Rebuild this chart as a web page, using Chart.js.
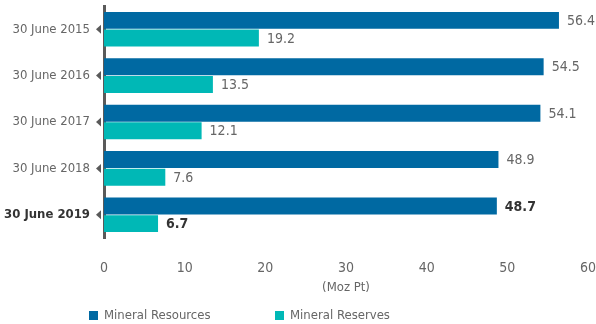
<!DOCTYPE html>
<html lang="en">
<head>
    <meta charset="UTF-8">
    <title>Mineral Resources and Reserves</title>
    <script src="https://cdn.jsdelivr.net/npm/chart.js"></script>
    <style>
        html, body { margin: 0; padding: 0; background: #fff; }
        #wrap { width: 596px; height: 324px; }
    </style>
</head>
<body>
    <div id="wrap"><canvas id="chart" width="596" height="324"></canvas></div>

    <script>
        var years = ['30 June 2015', '30 June 2016', '30 June 2017', '30 June 2018', '30 June 2019'];
        var resources = [56.4, 54.5, 54.1, 48.9, 48.7];
        var reserves = [19.2, 13.5, 12.1, 7.6, 6.7];
        var xTicks = [0, 10, 20, 30, 40, 50, 60];

        var FONT = "'DejaVu Sans Condensed', 'DejaVu Sans', sans-serif";
        var GREY = '#666666';
        var DARK = '#333333';
        var lastIdx = years.length - 1;

        // value labels, axis arrow markers and the legend row
        var extras = {
            id: 'extras',
            afterDatasetsDraw: function (chart) {
                var ctx = chart.ctx;
                ctx.save();
                ctx.textBaseline = 'middle';
                ctx.textAlign = 'left';
                chart.data.datasets.forEach(function (ds, i) {
                    chart.getDatasetMeta(i).data.forEach(function (bar, j) {
                        var bold = j === lastIdx;
                        ctx.font = (bold ? 'bold ' : '') + '14px ' + FONT;
                        ctx.fillStyle = bold ? DARK : GREY;
                        ctx.fillText(ds.data[j].toFixed(1), bar.x + 8, bar.y + 1);
                    });
                });

                // little left-pointing triangles on the category axis
                var yScale = chart.scales.y;
                var left = chart.chartArea.left;
                ctx.fillStyle = '#5a5a5a';
                years.forEach(function (y, j) {
                    var cy = yScale.getPixelForTick(j);
                    ctx.beginPath();
                    ctx.moveTo(left - 8, cy);
                    ctx.lineTo(left - 3, cy - 4.5);
                    ctx.lineTo(left - 3, cy + 4.5);
                    ctx.closePath();
                    ctx.fill();
                });

                // legend
                var lx = [89, 275];
                ctx.font = '13px ' + FONT;
                chart.data.datasets.forEach(function (ds, i) {
                    ctx.fillStyle = ds.backgroundColor;
                    ctx.fillRect(lx[i], 311, 9, 9);
                    ctx.fillStyle = GREY;
                    ctx.fillText(ds.label, lx[i] + 15, 316);
                });
                ctx.restore();
            }
        };

        new Chart(document.getElementById('chart').getContext('2d'), {
            type: 'bar',
            data: {
                labels: years,
                datasets: [{
                    label: 'Mineral Resources',
                    data: resources,
                    backgroundColor: '#0069a2'
                }, {
                    label: 'Mineral Reserves',
                    data: reserves,
                    backgroundColor: '#00b8b6'
                }]
            },
            options: {
                indexAxis: 'y',
                responsive: false,
                animation: false,
                layout: { padding: { top: 6, right: 8, bottom: 29, left: 0 } },
                datasets: {
                    bar: { categoryPercentage: 0.76, barPercentage: 0.96 }
                },
                plugins: {
                    legend: { display: false },
                    tooltip: { enabled: false }
                },
                scales: {
                    x: {
                        min: 0,
                        max: 60,
                        afterBuildTicks: function (scale) {
                            scale.ticks = xTicks.map(function (v) { return { value: v }; });
                        },
                        afterFit: function (scale) {
                            scale.height = 57;
                            scale.paddingLeft = 0;
                            scale.paddingRight = 0;
                        },
                        grid: { display: false, drawTicks: true, tickLength: 22 },
                        border: { display: false },
                        ticks: {
                            padding: 0,
                            color: GREY,
                            font: { family: FONT, size: 14 }
                        },
                        title: {
                            display: true,
                            text: '(Moz Pt)',
                            color: GREY,
                            padding: 0,
                            font: { family: FONT, size: 13 }
                        }
                    },
                    y: {
                        afterFit: function (scale) {
                            scale.width = 104;
                            scale.paddingTop = 0;
                            scale.paddingBottom = 0;
                        },
                        grid: { display: false, drawTicks: true, tickLength: 14 },
                        border: { display: true, color: '#5a5a5a', width: 3 },
                        ticks: {
                            padding: 0,
                            color: function (c) { return c.index === lastIdx ? DARK : GREY; },
                            font: function (c) {
                                return { family: FONT, size: 13, weight: c.index === lastIdx ? 'bold' : 'normal' };
                            }
                        }
                    }
                }
            },
            plugins: [extras]
        });
    </script>
</body>
</html>
